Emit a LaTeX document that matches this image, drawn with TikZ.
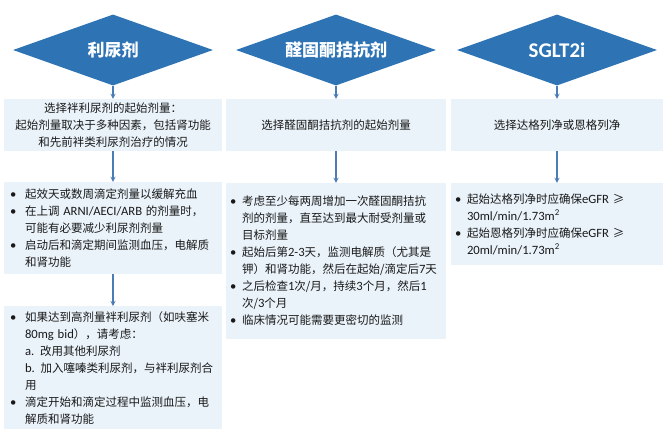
\documentclass[tikz,border=0pt]{standalone}
\usepackage{fontspec}
\setmainfont{Noto Sans CJK SC}
\newfontfamily\lat[Scale=1.1]{Carlito}
\usetikzlibrary{shapes.geometric}
\definecolor{diamblue}{HTML}{2E74B5}
\definecolor{boxblue}{HTML}{EAF3FA}
\definecolor{arrowblue}{HTML}{4A7DB6}
\newlength{\bulw}
\setlength{\bulw}{15pt}
\newcommand{\bul}{\makebox[\bulw][l]{\lat\textbullet}}
\newcommand{\ind}{\hspace*{\bulw}}

\begin{document}
\begin{tikzpicture}[x=1pt,y=-1pt,
  diam/.style={diamond,aspect=2.8,fill=diamblue,text=white,minimum width=200pt,minimum height=71pt,
    inner sep=0pt,font=\fontsize{17}{20}\selectfont\bfseries},
  box/.style={rectangle,fill=boxblue,inner sep=0pt,text=black!90,
    font=\fontsize{11.5}{17}\selectfont},
  narrow/.style={execute at begin node={\setlength{\bulw}{12pt}}},
  arr/.style={draw=arrowblue,line width=1.2pt,-stealth}]
  \useasboundingbox[fill=white] (0,0) rectangle (668,429);

  \node[diam] (d1) at (113,50) {利尿剂};
  \node[diam] (d2) at (336,50) {醛固酮拮抗剂};
  \node[diam] (d3) at (557,50) {\lat\fontsize{19}{20}\selectfont\bfseries SGLT2i};

  \node[box,minimum width=218pt,minimum height=52pt,align=center] (l1) at (113,125)
    {选择袢利尿剂的起始剂量：\\起始剂量取决于多种因素，包括肾功能\\和先前袢类利尿剂治疗的情况};
  \node[box,minimum width=218pt,minimum height=92pt,text width=206pt,align=left] (l2) at (113,228)
    {\bul 起效天或数周滴定剂量以缓解充血\\
     \bul 在上调 {\lat ARNI/AECI/ARB} 的剂量时，\\
     \ind 可能有必要减少利尿剂剂量\\
     \bul 启动后和滴定期间监测血压，电解质\\
     \ind 和肾功能};
  \node[box,anchor=north,minimum width=218pt,minimum height=123pt,text width=206pt,align=left] (l3) at (113,306)
    {\bul 如果达到高剂量袢利尿剂（如呋塞米\\
     \ind {\lat 80mg bid}），请考虑：\\
     \ind {\lat a.} 改用其他利尿剂\\
     \ind {\lat b.} 加入噻嗪类利尿剂，与袢利尿剂合\\
     \ind 用\\
     \bul 滴定开始和滴定过程中监测血压，电\\
     \ind 解质和肾功能};

  \node[box,minimum width=220pt,minimum height=52pt,align=center] (m1) at (336,125)
    {选择醛固酮拮抗剂的起始剂量};
  \node[box,narrow,minimum width=220pt,minimum height=156pt,text width=212pt,align=left] (m2) at (336,261)
    {\bul 考虑至少每两周增加一次醛固酮拮抗\\
     \ind 剂的剂量，直至达到最大耐受剂量或\\
     \ind 目标剂量\\
     \bul 起始后第{\lat 2-3}天，监测电解质（尤其是\\
     \ind 钾）和肾功能，然后在起始/滴定后{\lat 7}天\\
     \bul 之后检查{\lat 1}次/月，持续{\lat 3}个月，然后{\lat 1}\\
     \ind 次/{\lat 3}个月\\
     \bul 临床情况可能需要更密切的监测};

  \node[box,minimum width=212pt,minimum height=52pt,align=center] (r1) at (557,125)
    {选择达格列净或恩格列净};
  \node[box,narrow,minimum width=212pt,minimum height=82pt,text width=204pt,align=left] (r2) at (557,224)
    {\bul 起始达格列净时应确保{\lat eGFR} ≥\\
     \ind {\lat 30ml/min/1.73m\textsuperscript{2}}\\
     \bul 起始恩格列净时应确保{\lat eGFR} ≥\\
     \ind {\lat 20ml/min/1.73m\textsuperscript{2}}};

  \draw[arr] (d1) -- (l1);
  \draw[arr] (d2) -- (m1);
  \draw[arr] (d3) -- (r1);
  \draw[arr] (l1) -- (l2);
  \draw[arr] (m1) -- (m2);
  \draw[arr] (r1) -- (r2);
  \draw[arr] (l2) -- (l3);
\end{tikzpicture}
\end{document}
